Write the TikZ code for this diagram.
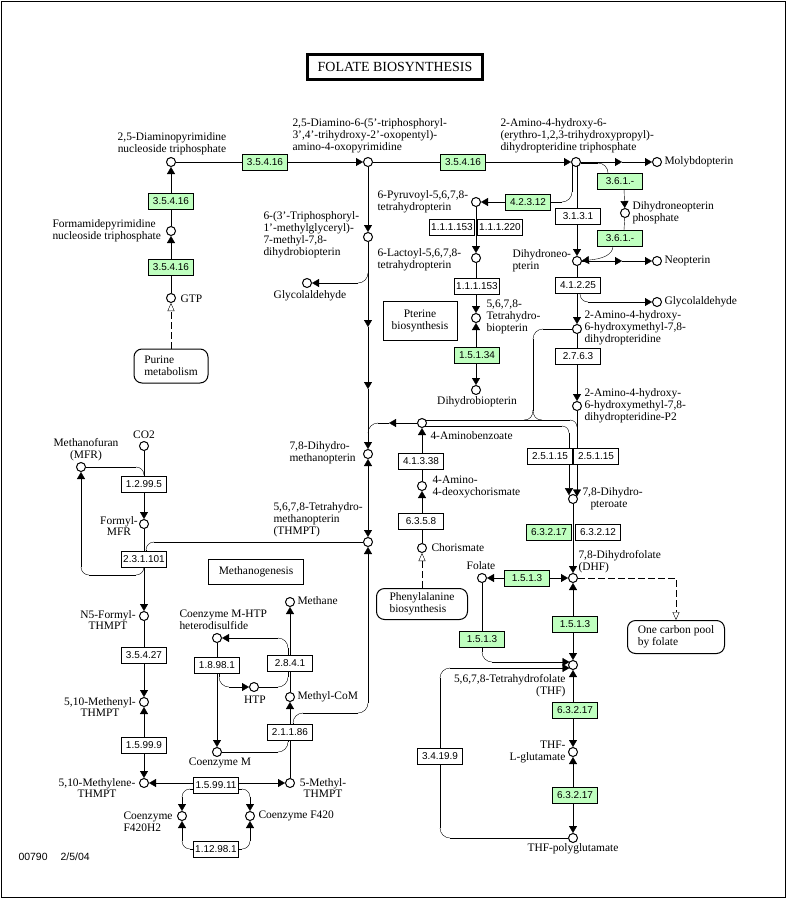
\documentclass[tikz,border=0pt]{standalone}
\usepackage{fontspec}
\setmainfont{Liberation Serif}
\setsansfont{Liberation Sans}
\usetikzlibrary{arrows.meta,backgrounds,calc}
\definecolor{kgreen}{HTML}{BFFFBF}
\newcommand\karc[3]{\draw (#1) .. controls ($(#1)!0.552!(#2)$) and ($(#3)!0.552!(#2)$) .. (#3);}
\begin{document}
\begin{tikzpicture}[x=1bp,y=-1bp,line width=1bp,
  >={Triangle[length=7bp,width=8bp]},
  cpd/.style={circle,draw,fill=white,inner sep=0pt,minimum size=9bp},
  enz/.style={draw,fill=white,inner sep=0pt,minimum width=45bp,minimum height=16bp,font=\sffamily\fontsize{10}{10}\selectfont},
  genz/.style={enz,fill=kgreen},
  lbl/.style={inner sep=0pt,font=\fontsize{11.5}{12}\selectfont},
  mapbox/.style={draw,fill=white,inner sep=0pt,font=\fontsize{11.5}{12}\selectfont},
  rmap/.style={mapbox,rounded corners=8bp},
  hollow/.style={-{Triangle[open,length=8bp,width=7bp,fill=white]}},
  dashln/.style={dash pattern=on 7bp off 3bp},
]
\useasboundingbox (0,0) rectangle (787,899);
\draw[line width=1bp] (1,1) rectangle (785,897);

\node[draw,line width=3bp,minimum width=175bp,minimum height=25bp,inner sep=0pt,font=\fontsize{14}{14}\selectfont] (title) at (395,67) {FOLATE BIOSYNTHESIS};

% compounds
\node[cpd] (dap) at (171,162) {};
\node[cpd] (fap) at (171,231) {};
\node[cpd] (gtp) at (171,298) {};
\node[cpd] (dao) at (368,162) {};
\node[cpd] (tmg) at (368,237) {};
\node[cpd] (gly1) at (307,283) {};
\node[cpd] (dhmpt) at (368,454) {};
\node[cpd] (thmpt) at (368,542) {};
\node[cpd] (ahp) at (576,162) {};
\node[cpd] (moly) at (657,162) {};
\node[cpd] (dnp) at (625,213) {};
\node[cpd] (dn) at (577,261) {};
\node[cpd] (neo) at (657,261) {};
\node[cpd] (gly2) at (657,302) {};
\node[cpd] (ahm) at (577,329) {};
\node[cpd] (ahmp) at (577,406) {};
\node[cpd] (pyr) at (476,202) {};
\node[cpd] (lac) at (476,258) {};
\node[cpd] (thb) at (476,318) {};
\node[cpd] (dhb) at (476,390) {};
\node[cpd] (pab) at (422,423) {};
\node[cpd] (adc) at (422,486) {};
\node[cpd] (chor) at (422,548) {};
\node[cpd] (dpt) at (573,499) {};
\node[cpd] (dhf) at (573,578) {};
\node[cpd] (fol) at (482,578) {};
\node[cpd] (thf) at (573,665) {};
\node[cpd] (thfg) at (573,752) {};
\node[cpd] (thfp) at (573,838) {};
\node[cpd] (co2) at (144,446) {};
\node[cpd] (mfr) at (81,467) {};
\node[cpd] (fmfr) at (144,524) {};
\node[cpd] (n5f) at (144,616) {};
\node[cpd] (meth) at (144,702) {};
\node[cpd] (mthl) at (144,783) {};
\node[cpd] (f420h2) at (182,816) {};
\node[cpd] (f420) at (250,816) {};
\node[cpd] (mthy) at (290,783) {};
\node[cpd] (mcom) at (290,697) {};
\node[cpd] (methane) at (290,602) {};
\node[cpd] (comhtp) at (217,638) {};
\node[cpd] (htp) at (254,687) {};
\node[cpd] (com) at (217,752) {};

% enzymes
\node[genz] (e1) at (171,267) {3.5.4.16};
\node[genz] (e2) at (171,201) {3.5.4.16};
\node[genz] (e3) at (265,162) {3.5.4.16};
\node[genz] (e4) at (463,162) {3.5.4.16};
\node[genz] (e5) at (528,202) {4.2.3.12};
\node[genz] (e6) at (620,181) {3.6.1.-};
\node[genz] (e7) at (620,238) {3.6.1.-};
\node[enz] (e8) at (578,216) {3.1.3.1};
\node[enz] (e9) at (578,285) {4.1.2.25};
\node[enz] (e10) at (578,356) {2.7.6.3};
\node[enz] (e11) at (452,227) {1.1.1.153};
\node[enz] (e12) at (500,227) {1.1.1.220};
\node[enz] (e13) at (477,286) {1.1.1.153};
\node[genz] (e14) at (477,355) {1.5.1.34};
\node[enz] (e15) at (421,461) {4.1.3.38};
\node[enz] (e16) at (421,521) {6.3.5.8};
\node[enz] (e17) at (550,456) {2.5.1.15};
\node[enz] (e18) at (596,456) {2.5.1.15};
\node[genz] (e19) at (549,532) {6.3.2.17};
\node[enz] (e20) at (598,532) {6.3.2.12};
\node[genz] (e21) at (527,578) {1.5.1.3};
\node[genz] (e22) at (575,624) {1.5.1.3};
\node[genz] (e23) at (482,639) {1.5.1.3};
\node[genz] (e24) at (575,710) {6.3.2.17};
\node[genz] (e25) at (575,795) {6.3.2.17};
\node[enz] (e26) at (440,756) {3.4.19.9};
\node[enz] (e27) at (144,484) {1.2.99.5};
\node[enz] (e28) at (144,559) {2.3.1.101};
\node[enz] (e29) at (144,655) {3.5.4.27};
\node[enz] (e30) at (144,745) {1.5.99.9};
\node[enz] (e31) at (216,785) {1.5.99.11};
\node[enz] (e32) at (216,849) {1.12.98.1};
\node[enz] (e33) at (217,665) {1.8.98.1};
\node[enz] (e34) at (290,663) {2.8.4.1};
\node[enz] (e35) at (290,732) {2.1.1.86};

% map boxes
\node[rmap,align=left,minimum width=74bp,minimum height=34bp] (purine) at (171,366) {Purine\\metabolism};
\node[mapbox,align=center,minimum width=74bp,minimum height=39bp] (pterine) at (420,321) {Pterine\\biosynthesis};
\node[mapbox,minimum width=95bp,minimum height=25bp] (methano) at (256,572) {Methanogenesis};
\node[rmap,align=left,minimum width=91bp,minimum height=31bp] (phe) at (422,604) {Phenylalanine\\biosynthesis};
\node[rmap,align=left,minimum width=97bp,minimum height=33bp] (ocp) at (676,637) {One carbon pool\\by folate};

% labels
\node[lbl,align=center] (l1) at (172,144) {2,5-Diaminopyrimidine\\nucleoside triphosphate};
\node[lbl,align=left,anchor=west] (l2) at (52,231) {Formamidepyrimidine\\nucleoside triphosphate};
\node[lbl,anchor=west] (l3) at (180,299) {GTP};
\node[lbl,align=left,anchor=west] (l4) at (292,136) {2,5-Diamino-6-(5'-triphosphoryl-\\3',4'-trihydroxy-2'-oxopentyl)-\\amino-4-oxopyrimidine};
\node[lbl,align=left,anchor=west] (l5) at (263,235) {6-(3'-Triphosphoryl-\\1'-methylglyceryl)-\\7-methyl-7,8-\\dihydrobiopterin};
\node[lbl] (l6) at (310,296) {Glycolaldehyde};
\node[lbl,align=left,anchor=west] (l7) at (500,136) {2-Amino-4-hydroxy-6-\\(erythro-1,2,3-trihydroxypropyl)-\\dihydropteridine triphosphate};
\node[lbl,anchor=west] (l8) at (664,162) {Molybdopterin};
\node[lbl,align=left,anchor=west] (l9) at (632,213) {Dihydroneopterin\\phosphate};
\node[lbl,align=left,anchor=west] (l10) at (512,261) {Dihydroneo-\\pterin};
\node[lbl,anchor=west] (l11) at (664,261) {Neopterin};
\node[lbl,anchor=west] (l12) at (664,302) {Glycolaldehyde};
\node[lbl,align=left,anchor=west] (l13) at (584,328) {2-Amino-4-hydroxy-\\6-hydroxymethyl-7,8-\\dihydropteridine};
\node[lbl,align=left,anchor=west] (l14) at (584,406) {2-Amino-4-hydroxy-\\6-hydroxymethyl-7,8-\\dihydropteridine-P2};
\node[lbl,align=left,anchor=west] (l15) at (377,202) {6-Pyruvoyl-5,6,7,8-\\tetrahydropterin};
\node[lbl,align=left,anchor=west] (l16) at (377,260) {6-Lactoyl-5,6,7,8-\\tetrahydropterin};
\node[lbl,align=left,anchor=west] (l17) at (486,317) {5,6,7,8-\\Tetrahydro-\\biopterin};
\node[lbl] (l18) at (477,402) {Dihydrobiopterin};
\node[lbl,anchor=west] (l19) at (430,436) {4-Aminobenzoate};
\node[lbl,align=left,anchor=west] (l20) at (432,487) {4-Amino-\\4-deoxychorismate};
\node[lbl,anchor=west] (l21) at (431,548) {Chorismate};
\node[lbl,align=left,anchor=west] (l22) at (582,499) {7,8-Dihydro-\\\hspace*{8bp}pteroate};
\node[lbl,align=left,anchor=west] (l23) at (578,562) {7,8-Dihydrofolate\\(DHF)};
\node[lbl] (l24) at (481,566) {Folate};
\node[lbl,align=right,anchor=east] (l25) at (566,686) {5,6,7,8-Tetrahydrofolate\\(THF)};
\node[lbl,align=right,anchor=east] (l26) at (566,752) {THF-\\L-glutamate};
\node[lbl] (l27) at (573,849) {THF-polyglutamate};
\node[lbl] (l28) at (144,435) {CO2};
\node[lbl,align=center] (l29) at (86,450) {Methanofuran\\(MFR)};
\node[lbl,align=center] (l30) at (119,526) {Formyl-\\MFR};
\node[lbl,align=left,anchor=west] (l31) at (289,453) {7,8-Dihydro-\\methanopterin};
\node[lbl,align=left,anchor=west] (l32) at (273,520) {5,6,7,8-Tetrahydro-\\methanopterin\\(THMPT)};
\node[lbl,align=center] (l33) at (108,620) {N5-Formyl-\\THMPT};
\node[lbl,align=center] (l34) at (100,707) {5,10-Methenyl-\\THMPT};
\node[lbl,align=center] (l35) at (97,788) {5,10-Methylene-\\THMPT};
\node[lbl,align=left,anchor=west] (l36) at (123,822) {Coenzyme\\F420H2};
\node[lbl,anchor=west] (l37) at (258,816) {Coenzyme F420};
\node[lbl,align=center] (l38) at (323,788) {5-Methyl-\\THMPT};
\node[lbl,anchor=west] (l39) at (297,697) {Methyl-CoM};
\node[lbl,anchor=west] (l40) at (297,601) {Methane};
\node[lbl,align=left,anchor=west] (l41) at (179,620) {Coenzyme M-HTP\\heterodisulfide};
\node[lbl] (l42) at (255,700) {HTP};
\node[lbl] (l43) at (220,763) {Coenzyme M};
\node[inner sep=0pt,anchor=west,font=\sffamily\fontsize{10.5}{12}\selectfont] (date) at (18,857) {00790\hspace{13bp}2/5/04};

% connectors
\begin{scope}[on background layer]
 \draw[dashln,hollow] (purine) -- (gtp);
 \draw[->] (gtp) -- (fap);
 \draw[->] (fap) -- (dap);
 \draw[->] (dap) -- (dao);
 \draw[->] (dao) -- (ahp);
 \draw[->] (dao) -- (tmg);
 \coordinate (ma) at (368,327);
 \coordinate (mb) at (368,389);
 \draw[->] (tmg) -- (ma);
 \draw[->] (ma) -- (mb);
 \draw[->] (mb) -- (dhmpt);
 % glycolaldehyde branch
 \karc{368,273}{368,283}{358,283}
 \draw[->] (358,283) -- (gly1);
 % aminobenzoate to methanopterin
 \coordinate (mc) at (389,423);
 \draw[->] (pab) -- (mc);
 \draw (mc) -- (378,423);
 \karc{378,423}{368,423}{368,433}
 \draw[<->] (dhmpt) -- (thmpt);
 % THMPT down to 2.1.1.86
 \draw[<-] (thmpt) -- (368,703);
 \karc{368,703}{368,713}{358,713}
 \draw (358,713) -- (303,713);
 \karc{303,713}{293,713}{293,723}
 \draw (293,723) -- (293,724);
 % 2.3.1.101 to THMPT
 \draw (thmpt) -- (154,542);
 \karc{154,542}{146,542}{146,550}
 \draw (146,550) -- (146,551);
 % MFR loops
 \draw (mfr) -- (136,467);
 \karc{136,467}{144,467}{144,475}
 \draw (144,475) -- (144,476);
 \karc{144,567}{144,575}{136,575}
 \draw (136,575) -- (89,575);
 \karc{89,575}{81,575}{81,567}
 \draw[->] (81,567) -- (mfr);
 % right pterin part
 \coordinate (md) at (622,162);
 \draw[->] (ahp) -- (md);
 \draw[->] (md) -- (moly);
 \draw (581,163) -- (598,163);
 \karc{598,163}{608,163}{608,173}
 \draw[->] (624,189) -- (dnp);
 \draw (dnp) -- (624,230);
 \draw[->] (613,246) .. controls (613,255) and (602,259) .. (dn);
 \draw (572,164) -- (572,192);
 \karc{572,192}{572,202}{562,202}
 \draw[->] (562,202) -- (pyr);
 \draw[->] (577,166.4) -- (dn);
 \coordinate (me) at (622,261);
 \draw[->] (dn) -- (me);
 \draw[->] (me) -- (neo);
 \karc{580,294}{580,302}{588,302}
 \draw[->] (588,302) -- (gly2);
 \draw[->] (dn) -- (ahm);
 \draw[->] (ahm) -- (ahmp);
 \draw (ahm) -- (543,329);
 \karc{543,329}{533,329}{533,339}
 \draw (533,339) -- (533,411);
 \draw (533,410) .. controls (533,416) and (530,420) .. (524,420);
 \draw (533,410) .. controls (533,416) and (536,420) .. (542,420);
 \draw (425.4,420) -- (570,420);
 \karc{570,420}{577,420}{577,427}
 \draw (425.4,426) -- (562,426);
 \karc{562,426}{569,426}{569,433}
 \draw[->] (569,433) -- (569,495.2);
 \draw[->] (ahmp) -- (577,496.5);
 % middle pterin column
 \draw[->] (pyr) -- (lac);
 \draw[->] (lac) -- (thb);
 \draw[<->] (thb) -- (dhb);
 \draw[->] (adc) -- (pab);
 \draw[->] (chor) -- (adc);
 \draw[dashln,hollow] (phe) -- (chor);
 % folate
 \draw[->] (dpt) -- (dhf);
 \draw[dashln,hollow] (dhf) -| (ocp);
 \draw[<->] (fol) -- (dhf);
 \draw[<->] (dhf) -- (thf);
 \draw (fol) -- (482,652);
 \karc{482,652}{482,662}{492,662}
 \draw[->] (492,662) -- (569.5,662);
 \draw (thfp) -- (450,838);
 \karc{450,838}{440,838}{440,828}
 \draw (440,828) -- (440,678);
 \karc{440,678}{440,668}{450,668}
 \draw[->] (450,668) -- (569.5,668);
 \draw[<->] (thf) -- (thfg);
 \draw[<->] (thfg) -- (thfp);
 % methanogenesis
 \draw[->] (co2) -- (fmfr);
 \draw[->] (fmfr) -- (n5f);
 \draw[->] (n5f) -- (meth);
 \draw[<->] (meth) -- (mthl);
 \draw[<->] (mthl) -- (mthy);
 \draw (193.5,789) -- (190,789);
 \karc{190,789}{182,789}{182,797}
 \draw[->] (182,797) -- (f420h2);
 \draw (238.5,789) -- (242,789);
 \karc{242,789}{250,789}{250,797}
 \draw[->] (250,797) -- (f420);
 \draw (e32.west) -- (190,849);
 \karc{190,849}{182,849}{182,841}
 \draw[->] (182,841) -- (f420h2);
 \draw (e32.east) -- (242,849);
 \karc{242,849}{250,849}{250,841}
 \draw[->] (250,841) -- (f420);
 \draw[->] (comhtp) -- (com);
 \draw (219,673) -- (219,677);
 \karc{219,677}{219,687}{229,687}
 \draw[->] (229,687) -- (htp);
 \draw (htp) -- (278,687);
 \karc{278,687}{288,687}{288,677}
 \draw (288,677) -- (288,671);
 \draw (288,655) -- (288,648);
 \karc{288,648}{288,638}{278,638}
 \draw[->] (278,638) -- (comhtp);
 \draw[->] (mcom) -- (methane);
 \draw[->] (mthy) -- (mcom);
 \draw (com) -- (278,752);
 \karc{278,752}{288,752}{288,742}
 \draw (288,742) -- (288,740);
\end{scope}
\end{tikzpicture}
\end{document}
